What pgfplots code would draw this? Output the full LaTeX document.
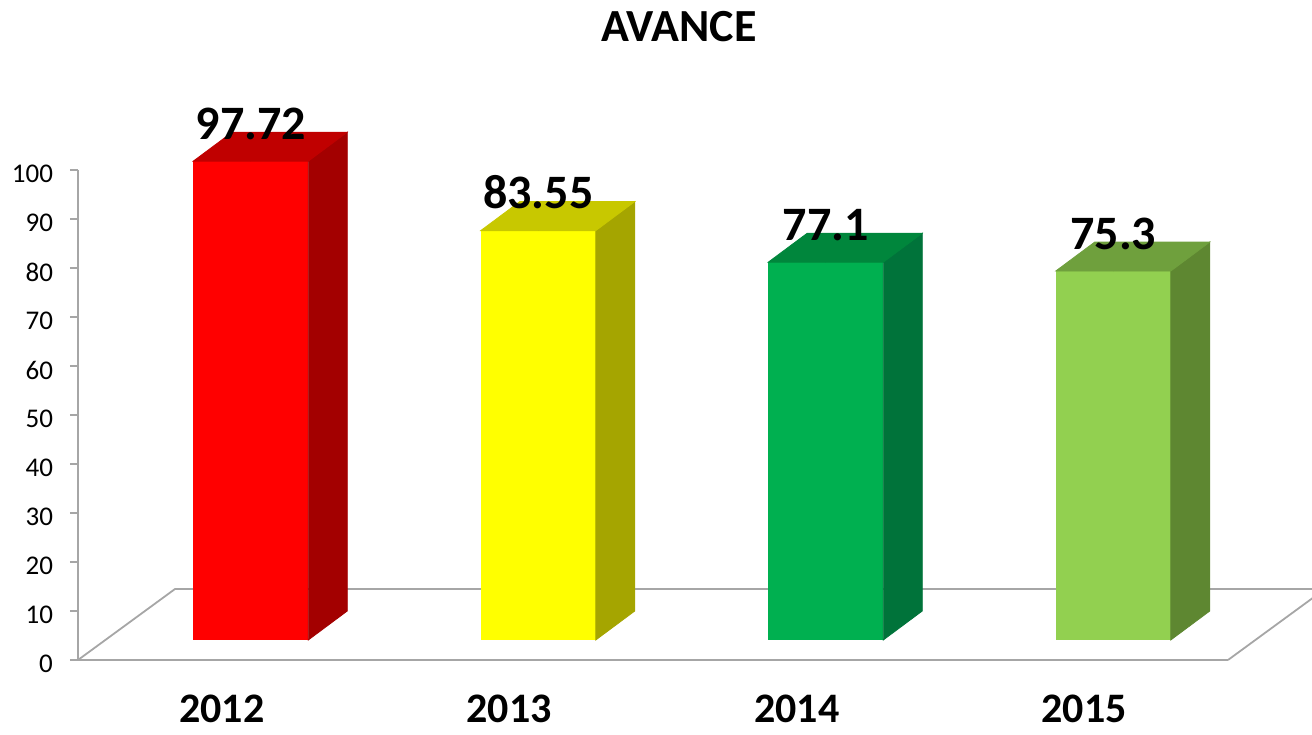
\documentclass[border=0pt]{standalone}
\usepackage{pgfplots}
\pgfplotsset{compat=1.18}
\usepackage{pgfplotstable}
\usepackage{fontspec}
\setmainfont{Carlito}
\definecolor{axgray}{HTML}{A6A6A6}
\definecolor{rF}{HTML}{FF0000}\definecolor{rT}{HTML}{C00000}\definecolor{rS}{HTML}{A30000}
\definecolor{yF}{HTML}{FFFF00}\definecolor{yT}{HTML}{C8C800}\definecolor{yS}{HTML}{A5A500}
\definecolor{gF}{HTML}{00B050}\definecolor{gT}{HTML}{00863C}\definecolor{gS}{HTML}{00733A}
\definecolor{lF}{HTML}{92D050}\definecolor{lT}{HTML}{6FA03D}\definecolor{lS}{HTML}{5E8731}

\pgfplotstableread{
x v lab
0 97.72 97.72
}\dA
\pgfplotstableread{
x v lab
1 83.55 83.55
}\dB
\pgfplotstableread{
x v lab
2 77.1 77.1
}\dC
\pgfplotstableread{
x v lab
3 75.3 75.3
}\dD

\pgfplotsset{
  cube/.style n args={2}{
    only marks, scatter, mark=*, mark size=0pt,
    scatter/use mapped color={draw opacity=0, fill opacity=0},
    xshift=14.5pt, yshift=10pt,
    visualization depends on={\thisrow{v}\as\val},
    scatter/@pre marker code/.code={
      \fill[#2, fill opacity=1] (28.75pt,0pt) -- ++(19.5pt,14.5pt) -- ++(axis direction cs:0,-\val) -- ++(-19.5pt,-14.5pt) -- cycle;
      \fill[#1, fill opacity=1] (-28.75pt,0pt) -- (28.75pt,0pt) -- ++(19.5pt,14.5pt) -- ++(-57.5pt,0pt) -- cycle;
    },
    scatter/@post marker code/.code={},
  },
  front/.style={
    ybar, bar width=57.5pt, bar shift=14.5pt, yshift=10pt,
    fill=#1, draw=none,
    nodes near coords, point meta=explicit symbolic,
    every node near coord/.append style={anchor=base, xshift=14.5pt, yshift=11pt, text=black,
      font=\bfseries\fontsize{24}{28}\selectfont},
  },
}

\begin{document}
\begin{tikzpicture}
\path[use as bounding box] (-39pt,-37pt) rectangle (617pt,330pt);
\begin{axis}[
  scale only axis, width=575pt, height=245pt,
  xmin=-0.5, xmax=3.5, ymin=0, ymax=100,
  clip=false,
  axis lines=left,
  axis line style={-, axgray, line width=0.9pt},
  tick style={axgray, line width=0.9pt},
  tick align=outside,
  major tick length=4pt,
  xtick={0,1,2,3},
  xticklabels={2012,2013,2014,2015},
  major x tick style={draw=none},
  extra x ticks={-0.5,0.5,1.5,2.5,3.5},
  extra x tick labels={},
  extra x tick style={major tick length=6pt, tick style={axgray, line width=0.9pt}},
  xticklabel style={font=\bfseries\fontsize{21}{24}\selectfont, anchor=base, inner sep=0pt, yshift=-27pt},
  ytick={0,10,...,100},
  yticklabel style={font=\fontsize{13.5}{15}\selectfont, anchor=east, xshift=-5pt, yshift=-2pt},
  /pgf/number format/assume math mode=true,
  title={AVANCE},
  title style={font=\bfseries\fontsize{23}{27}\selectfont, at={(axis description cs:0.5226,1.238)}, anchor=base},
]
% floor
\draw[axgray, line width=0.9pt] (axis cs:-0.5,0) -- ++(48.5pt,35.5pt) -- ([xshift=60pt,yshift=35.5pt]axis cs:3.5,0);
\draw[axgray, line width=0.9pt] (axis cs:3.5,0) -- ++(48.5pt,35.5pt);
% bars
\addplot[cube={rT}{rS}] table[x=x,y=v] {\dA};
\addplot[front=rF] table[x=x,y=v,meta=lab] {\dA};
\addplot[cube={yT}{yS}] table[x=x,y=v] {\dB};
\addplot[front=yF] table[x=x,y=v,meta=lab] {\dB};
\addplot[cube={gT}{gS}] table[x=x,y=v] {\dC};
\addplot[front=gF] table[x=x,y=v,meta=lab] {\dC};
\addplot[cube={lT}{lS}] table[x=x,y=v] {\dD};
\addplot[front=lF] table[x=x,y=v,meta=lab] {\dD};
\end{axis}
\end{tikzpicture}
\end{document}
